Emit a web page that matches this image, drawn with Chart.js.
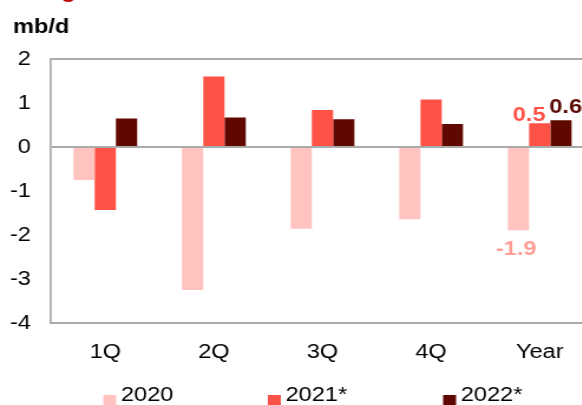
<!DOCTYPE html>
<html>
<head>
<meta charset="utf-8">
<script src="https://cdn.jsdelivr.net/npm/chart.js@4"></script>
<style>
  html, body { margin: 0; padding: 0; overflow: hidden; background: #fff; width: 582px; height: 405px; }
  /* o original tem o texto esticado na horizontal */
  #wrap { position: absolute; left: 0; top: 0; width: 510px; height: 405px; transform: scaleX(1.18); transform-origin: 0 0; }
</style>
</head>
<body>
<div id="wrap"><canvas id="myChart"></canvas></div>
<script>
const categorias = ["1Q", "2Q", "3Q", "4Q", "Year"];
const series = ["2020", "2021*", "2022*"];
const valores2020 = [-0.75, -3.25, -1.86, -1.64, -1.89];
const valores2021 = [-1.43, 1.6, 0.84, 1.08, 0.54];
const valores2022 = [0.65, 0.67, 0.63, 0.52, 0.61];

const cores = ["#ffc4c0", "#ff5246", "#600800"];
const coresRotulo = ["#ff9d96", "#ff5246", "#5a0800"];
const fonte = "'Liberation Sans', Arial, sans-serif";

Chart.defaults.font.family = fonte;
Chart.defaults.font.size = 20;
Chart.defaults.color = "#000";

// rótulos só na coluna "Year", como no original
const rotulos = {
  id: "rotulos",
  afterDatasetsDraw(chart) {
    const ctx = chart.ctx;
    const i = categorias.length - 1;
    const desloc = [{ dx: -2, dy: 25 }, { dx: -9, dy: -2 }, { dx: 4, dy: -7 }];
    ctx.save();
    ctx.font = "bold 20px " + fonte;
    ctx.textAlign = "center";
    ctx.textBaseline = "alphabetic";
    chart.data.datasets.forEach((ds, k) => {
      const bar = chart.getDatasetMeta(k).data[i];
      ctx.fillStyle = coresRotulo[k];
      ctx.fillText(ds.data[i].toFixed(1), bar.x + desloc[k].dx, bar.y + desloc[k].dy);
    });
    ctx.restore();
  },
};

// legenda e textos soltos
const extras = {
  id: "extras",
  afterDraw(chart) {
    const ctx = chart.ctx;
    ctx.save();
    ctx.textBaseline = "alphabetic";
    ctx.textAlign = "left";
    ctx.font = "bold 20px " + fonte;
    ctx.fillStyle = "#c00000";
    ctx.fillText("Change", 2, -2);
    ctx.fillStyle = "#000";
    ctx.fillText("mb/d", 11, 33);

    const xs = [87.5, 227, 375.5];
    ctx.font = "20px " + fonte;
    chart.data.datasets.forEach((ds, k) => {
      ctx.fillStyle = ds.backgroundColor;
      ctx.fillRect(xs[k], 395, 11, 13);
      ctx.fillStyle = "#000";
      ctx.fillText(ds.label, xs[k] + 15, 401);
    });
    ctx.restore();
  },
};

const ctx = document.getElementById("myChart");

new Chart(ctx, {
  type: "bar",
  data: {
    labels: categorias,
    datasets: [
      { label: series[0], data: valores2020, backgroundColor: cores[0] },
      { label: series[1], data: valores2021, backgroundColor: cores[1] },
      { label: series[2], data: valores2022, backgroundColor: cores[2] },
    ],
  },
  options: {
    responsive: true,
    maintainAspectRatio: false,
    animation: false,
    layout: { padding: { top: 59, left: 0, right: 6.6, bottom: 0 } },
    datasets: {
      bar: { categoryPercentage: 0.587, barPercentage: 1, borderWidth: 0 },
    },
    plugins: {
      legend: { display: false },
      tooltip: { enabled: false },
    },
    scales: {
      x: {
        afterFit: (scale) => { scale.height = 82; },
        grid: { display: false, drawTicks: false },
        border: { display: true, color: "#aaaaaa", width: 2 },
        ticks: { padding: 17 },
      },
      y: {
        min: -4,
        max: 2,
        afterFit: (scale) => { scale.width = 43.2; },
        grid: {
          drawTicks: false,
          lineWidth: 2,
          color: (c) => (c.tick && (c.tick.value === 0 || c.tick.value === 2) ? "#aaaaaa" : "rgba(0,0,0,0)"),
        },
        border: { display: true, color: "#aaaaaa", width: 1.7 },
        ticks: { stepSize: 1, padding: 17 },
      },
    },
  },
  plugins: [rotulos, extras],
});
</script>
</body>
</html>
